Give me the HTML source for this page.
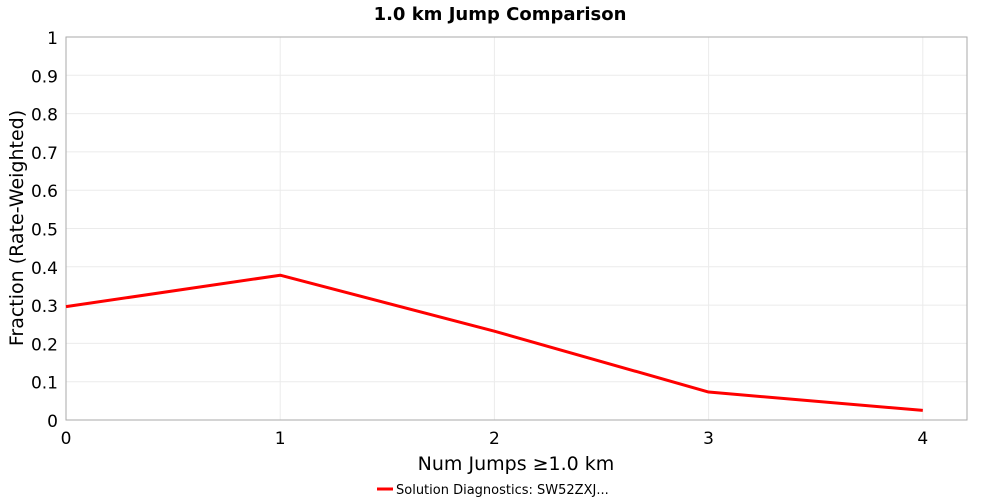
<!DOCTYPE html>
<html><head><meta charset="utf-8"><style>
body{margin:0;background:#fff;font-family:"DejaVu Sans","Liberation Sans",sans-serif}
</style></head><body>
<svg width="1000" height="500" id="c" font-family="DejaVu Sans, Liberation Sans, sans-serif">
<text x="500" y="20" text-anchor="middle" font-size="18" font-weight="bold">1.0 km Jump Comparison</text>
<g id="grid"></g>
<rect x="66" y="37" width="901" height="383" fill="none" stroke="#aaa"/>
<g id="ticks"></g>
<polyline id="line" fill="none" stroke="#ff0000" stroke-width="3" stroke-linejoin="round"/>
<text x="516" y="470" text-anchor="middle" font-size="19">Num Jumps ≥1.0 km</text>
<text transform="translate(23,228) rotate(-90)" text-anchor="middle" font-size="19">Fraction (Rate-Weighted)</text>
<g>
<line x1="377" y1="489" x2="393" y2="489" stroke="#ff0000" stroke-width="3"/>
<text x="396" y="494" font-size="13">Solution Diagnostics: SW52ZXJ...</text>
</g>
</svg>
<script>
const categories=[0,1,2,3,4];
const values=[0.296,0.378,0.232,0.073,0.025];
const yTicks=[0,0.1,0.2,0.3,0.4,0.5,0.6,0.7,0.8,0.9,1];
const yTickLabels=["0","0.1","0.2","0.3","0.4","0.5","0.6","0.7","0.8","0.9","1"];
const xTicks=[0,1,2,3,4];
const X=v=>66+v*214.2, Y=v=>420-v*383;
const ns="http://www.w3.org/2000/svg";
const grid=document.getElementById('grid'), ticks=document.getElementById('ticks');
function mk(tag,attrs,parent){const e=document.createElementNS(ns,tag);for(const k in attrs)e.setAttribute(k,attrs[k]);parent.appendChild(e);return e;}
yTicks.forEach((t,i)=>{
  const g=mk('line',{x1:66,x2:967,y1:Y(t),y2:Y(t),stroke:'#ebebeb'},grid);
  
  
  const tx=mk('text',{x:58,y:Y(t)+7,'text-anchor':'end','font-size':17},ticks);
  tx.textContent=yTickLabels[i];
  
  
});
xTicks.forEach(t=>{
  const g=mk('line',{x1:X(t),x2:X(t),y1:37,y2:420,stroke:'#ebebeb'},grid);
  
  
  const tx=mk('text',{x:X(t),y:444,'text-anchor':'middle','font-size':17},ticks);
  tx.textContent=String(t);
  
  
});
document.getElementById('line').setAttribute('points',categories.map((c,i)=>X(c)+','+Y(values[i])).join(' '));
</script>
</body></html>
